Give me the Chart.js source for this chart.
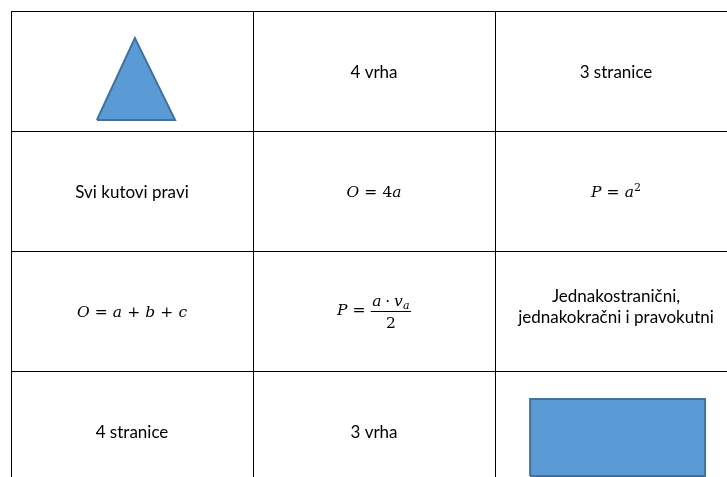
<!DOCTYPE html>
<html>
<head>
<meta charset="utf-8">
<script src="https://cdn.jsdelivr.net/npm/chart.js@4"></script>
<style>
  body { margin: 0; background: #fff; }
</style>
</head>
<body>
<canvas id="myChart" width="727" height="477"></canvas>
<script>
// table lines, in cell units (columns across, rows down)
const colLines = [0, 1, 2, 3];
const rowLines = [0, 1, 2, 3, 4];

// cell contents, row by row; "$" marks a formula
const cellText = [
  ["", "4 vrha", "3 stranice"],
  ["Svi kutovi pravi", "$O = 4a", "$P = a^2"],
  ["$O = a + b + c", "$P = a · v_a / 2", "Jednakostranični,\njednakokračni i pravokutni"],
  ["4 stranice", "3 vrha", ""]
];

// the two shapes in cell units
const triangleX = [0.355, 0.512, 0.678, 0.355];
const triangleY = [0.908, 0.225, 0.908, 0.908];
const rectX = [2.145, 2.145, 2.868, 2.868, 2.145];
const rectY = [3.875, 3.233, 3.233, 3.875, 3.875];

const toPoints = (xs, ys) => xs.map((v, i) => ({ x: v, y: ys[i] }));

const TEXT_FONT = "17px Lato, 'Open Sans', sans-serif";
const MATH_SIZE = 15.5;
const mathFont = (italic, size) =>
  (italic ? "italic " : "") + size + "px 'DejaVu Serif', serif";

// split a formula into glyph runs: letters italic, ^ and _ for super/subscripts
function mathRuns(s, size) {
  const runs = [];
  const chars = [...s];
  let shift = 0;
  chars.forEach((c, i) => {
    if (c === "^") { shift = -1; return; }
    if (c === "_") { shift = 1; return; }
    if (c === " ") {
      const nearDot = chars[i - 1] === "·" || chars[i + 1] === "·";
      runs.push({ space: size * (nearDot ? 0.25 : 0.33) });
      return;
    }
    const italic = /[a-zA-Z]/.test(c);
    const sz = shift ? Math.round(size * 0.72) : size;
    runs.push({ text: c, font: mathFont(italic, sz), dy: shift < 0 ? -size * 0.4 : shift > 0 ? size * 0.22 : 0 });
    shift = 0;
  });
  return runs;
}

function runsWidth(ctx, runs) {
  let w = 0;
  for (const r of runs) {
    if (r.space) { w += r.space; continue; }
    ctx.font = r.font;
    w += ctx.measureText(r.text).width;
  }
  return w;
}

function drawRuns(ctx, runs, x, y) {
  for (const r of runs) {
    if (r.space) { x += r.space; continue; }
    ctx.font = r.font;
    ctx.fillText(r.text, x, y + r.dy);
    x += ctx.measureText(r.text).width;
  }
}

function drawMath(ctx, s, cx, cy) {
  ctx.textAlign = "left";
  ctx.textBaseline = "alphabetic";
  if (s.includes(" / ")) {
    const [lhs, rhs] = s.split(" = ");
    const [num, den] = rhs.split(" / ");
    const lhsRuns = mathRuns(lhs + " = ", MATH_SIZE);
    const numRuns = mathRuns(num, MATH_SIZE);
    const denRuns = mathRuns(den, MATH_SIZE);
    const lw = runsWidth(ctx, lhsRuns);
    const fw = Math.max(runsWidth(ctx, numRuns), runsWidth(ctx, denRuns)) + 3;
    let x = cx - (lw + fw) / 2;
    drawRuns(ctx, lhsRuns, x, cy + 4);
    x += lw;
    ctx.fillRect(x, cy, fw, 1);
    drawRuns(ctx, numRuns, x + (fw - runsWidth(ctx, numRuns)) / 2, cy - 5);
    drawRuns(ctx, denRuns, x + (fw - runsWidth(ctx, denRuns)) / 2, cy + 17);
    return;
  }
  const runs = mathRuns(s, MATH_SIZE);
  drawRuns(ctx, runs, cx - runsWidth(ctx, runs) / 2, cy + 6);
}

const tableText = {
  id: "tableText",
  afterDatasetsDraw(chart) {
    const { ctx, scales: { x, y } } = chart;
    ctx.save();
    ctx.fillStyle = "#000";
    cellText.forEach((row, r) => {
      row.forEach((txt, c) => {
        if (!txt) return;
        const cx = x.getPixelForValue(c + 0.5);
        const cy = y.getPixelForValue(r + 0.5);
        if (txt[0] === "$") { drawMath(ctx, txt.slice(1), cx, cy); return; }
        const lines = txt.split("\n");
        ctx.font = TEXT_FONT;
        ctx.textAlign = "center";
        ctx.textBaseline = "alphabetic";
        if (lines.length === 1) { ctx.fillText(txt, cx, cy + 7); return; }
        lines.forEach((ln, i) => {
          ctx.fillText(ln, cx, cy + 1.5 + (i - (lines.length - 1) / 2) * 21.6);
        });
      });
    });
    ctx.restore();
  }
};

const shapeStyle = {
  showLine: true,
  fill: "shape",
  backgroundColor: "#5B9BD5",
  borderColor: "#41719C",
  borderWidth: 2,
  borderJoinStyle: "miter",
  pointRadius: 0,
  tension: 0
};

const gridOpts = { color: "#000", lineWidth: 1, drawTicks: false };

let tableChart = document.getElementById("myChart").getContext("2d");
new Chart(tableChart, {
  type: "scatter",
  data: {
    datasets: [
      Object.assign({ label: "trokut", data: toPoints(triangleX, triangleY) }, shapeStyle),
      Object.assign({ label: "pravokutnik", data: toPoints(rectX, rectY) }, shapeStyle)
    ]
  },
  options: {
    responsive: false,
    animation: false,
    layout: { padding: { left: 11, top: 11, right: 0, bottom: 0 } },
    plugins: { legend: { display: false }, tooltip: { enabled: false } },
    events: [],
    scales: {
      x: {
        type: "linear",
        min: 0,
        max: 716 / 242,
        grid: gridOpts,
        border: { display: false },
        ticks: { display: false },
        afterBuildTicks: (s) => { s.ticks = colLines.map((v) => ({ value: v })); }
      },
      y: {
        type: "linear",
        reverse: true,
        min: 0,
        max: 466 / 120,
        grid: gridOpts,
        border: { display: false },
        ticks: { display: false },
        afterBuildTicks: (s) => { s.ticks = rowLines.map((v) => ({ value: v })); }
      }
    }
  },
  plugins: [tableText]
});
</script>
</body>
</html>
